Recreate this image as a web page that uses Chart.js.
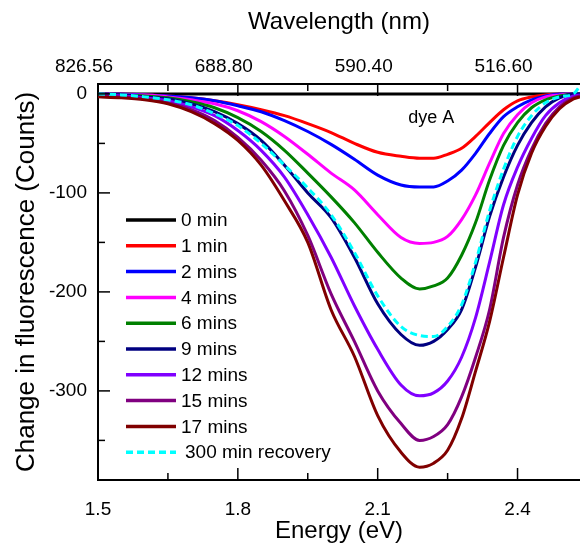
<!DOCTYPE html>
<html>
<head>
<meta charset="utf-8">
<script src="https://cdn.jsdelivr.net/npm/chart.js@4.4.1/dist/chart.umd.min.js"></script>
<style>
    html, body { margin: 0; padding: 0; background: #fff; }
</style>
</head>
<body>
<canvas id="myChart" width="580" height="546"></canvas>
<script>

// photon energy (eV) of each sample point
var energy = [1.50, 1.55, 1.60, 1.65, 1.70, 1.75, 1.80, 1.85, 1.90, 1.95, 2.00, 2.05, 2.10, 2.15,
              2.19, 2.22, 2.25, 2.28, 2.31, 2.34, 2.37, 2.40, 2.43, 2.46, 2.49, 2.52, 2.534];

// change in fluorescence (counts) for each exposure time
var min0  = [0, 0, 0, 0, 0, 0, 0, 0, 0, 0, 0, 0, 0, 0, 0, 0, 0, 0, 0, 0, 0, 0, 0, 0, 0, 0, 0];
var min1  = [0, 0, -1, -2, -4, -7, -11, -16, -22, -30, -39, -50, -59, -63, -65, -65, -61, -55, -43, -29, -16, -7, -3, -1, 0, 0, 0];
var min2  = [0, 0, -1, -2, -4, -7, -12, -18, -27, -38, -51, -66, -82, -92, -94, -94, -88, -77, -60, -40, -23, -13, -6, -2, 0, 0, 0];
var min4  = [0, -1, -1, -3, -6, -10, -17, -28, -43, -61, -80, -97, -122, -145, -151, -150, -144, -127, -102, -70, -40, -21, -9, -3, -1, 0, 0];
var min6  = [0, -1, -2, -4, -8, -14, -24, -38, -57, -80, -104, -130, -160, -186, -197, -194, -186, -163, -130, -87, -52, -29, -14, -6, -2, 0, 0];
var min9  = [0, -1, -3, -5, -10, -18, -30, -47, -72, -100, -125, -165, -212, -243, -254, -250, -238, -218, -175, -124, -84, -52, -29, -13, -4, 0, 0];
var min12 = [-1, -2, -4, -7, -13, -22, -37, -57, -84, -122, -165, -214, -258, -294, -305, -302, -290, -266, -226, -170, -112, -74, -45, -22, -9, -2, -1];
var min15 = [-2, -3, -5, -9, -16, -27, -44, -67, -98, -143, -202, -250, -300, -333, -350, -346, -334, -306, -266, -218, -145, -92, -56, -30, -13, -4, -2];
var min17 = [-3, -4, -6, -10, -18, -30, -47, -72, -108, -150, -218, -265, -325, -362, -377, -373, -360, -328, -280, -230, -165, -102, -60, -33, -15, -5, -3];
var recovery300 = [0, -1, -3, -6, -11, -20, -32, -50, -72, -95, -122, -160, -204, -235, -244, -245, -235, -213, -170, -118, -76, -43, -22, -9, -3, 0, 8];

var seriesNames = ['0 min', '1 min', '2 mins', '4 mins', '6 mins', '9 mins', '12 mins', '15 mins', '17 mins', '300 min recovery'];
var seriesColors = ['#000000', '#ff0000', '#0000ff', '#ff00ff', '#008000', '#000080', '#8000ff', '#800080', '#800000', '#00ffff'];
var seriesValues = [min0, min1, min2, min4, min6, min9, min12, min15, min17, recovery300];

// axis ranges and tick positions (labelled ones get long tick marks)
var energyMin = 1.5, energyMax = 2.534;
var countsMin = -390, countsMax = 10;
var energyTicks = [1.5, 1.65, 1.8, 1.95, 2.1, 2.25, 2.4];
var energyLabels = ['1.5', '', '1.8', '', '2.1', '', '2.4'];
var wavelengthLabels = ['826.56', '', '688.80', '', '590.40', '', '516.60'];
var countsTicks = [-350, -300, -250, -200, -150, -100, -50, 0];
var countsLabels = ['', '-300', '', '-200', '', '-100', '', '0'];

var FONT = "'Liberation Sans', Arial, sans-serif";

function points(vals) {
    return energy.map(function (e, i) { return { x: e, y: vals[i] }; });
}

var datasets = seriesValues.map(function (vals, i) {
    return {
        label: seriesNames[i],
        data: points(vals),
        borderColor: seriesColors[i],
        backgroundColor: seriesColors[i],
        borderWidth: 3,
        borderDash: i === 9 ? [7, 4] : [],
        pointRadius: 0,
        cubicInterpolationMode: 'monotone',
        order: 9 - i   // later series on top
    };
});

function setTicks(values) {
    return function (s) {
        s.ticks = values.map(function (v) { return { value: v }; });
    };
}

function labelFrom(values, labels) {
    return function (v) {
        var i = values.indexOf(v);
        return i < 0 ? '' : labels[i];
    };
}

// ticks pointing into the plot, long on labelled values
var inwardTicks = {
    id: 'inwardTicks',
    afterDraw: function (chart) {
        var ctx = chart.ctx, a = chart.chartArea;
        ctx.save();
        ctx.strokeStyle = '#000';
        ctx.lineWidth = 1.5;
        ['x', 'x2', 'y'].forEach(function (id) {
            var s = chart.scales[id];
            s.ticks.forEach(function (t) {
                var len = t.label ? 12 : 7;
                var p = s.getPixelForValue(t.value);
                ctx.beginPath();
                if (id === 'x') { ctx.moveTo(p, a.bottom); ctx.lineTo(p, a.bottom - len); }
                else if (id === 'x2') { ctx.moveTo(p, a.top); ctx.lineTo(p, a.top + len); }
                else { ctx.moveTo(a.left, p); ctx.lineTo(a.left + len, p); }
                ctx.stroke();
            });
        });
        ctx.restore();
    }
};

// legend inside the plot + the dye label
var innerLegend = {
    id: 'innerLegend',
    afterDraw: function (chart) {
        var ctx = chart.ctx, a = chart.chartArea;
        var x0 = a.left + 28, y0 = a.top + 136, step = 25.8;
        ctx.save();
        ctx.font = '19px ' + FONT;
        ctx.textBaseline = 'middle';
        ctx.fillStyle = '#000';
        chart.data.datasets.forEach(function (ds, i) {
            var y = y0 + i * step;
            ctx.strokeStyle = ds.borderColor;
            ctx.lineWidth = 3.5;
            ctx.setLineDash(ds.borderDash || []);
            ctx.beginPath();
            ctx.moveTo(x0, y);
            ctx.lineTo(x0 + 50, y);
            ctx.stroke();
            ctx.setLineDash([]);
            ctx.fillText(ds.label, x0 + 55 + (i === 9 ? 4 : 0), y + 1);
        });

        ctx.font = '18px ' + FONT;
        ctx.textAlign = 'center';
        ctx.fillText('dye A', chart.scales.x.getPixelForValue(2.215), chart.scales.y.getPixelForValue(-24));
        ctx.restore();
    }
};

var chartArea = document.getElementById('myChart').getContext('2d');

var myChart = new Chart(chartArea, {
    type: 'line',
    data: { datasets: datasets },
    options: {
        responsive: false,
        animation: false,
        devicePixelRatio: 1,
        layout: { padding: 0 },
        plugins: {
            legend: { display: false },
            tooltip: { enabled: false }
        },
        scales: {
            x: {
                type: 'linear',
                position: 'bottom',
                min: energyMin,
                max: energyMax,
                afterBuildTicks: setTicks(energyTicks),
                grid: { display: false, drawTicks: false },
                border: { display: true, color: '#000', width: 2 },
                ticks: {
                    autoSkip: false,
                    maxRotation: 0,
                    padding: 18,
                    color: '#000',
                    font: { family: FONT, size: 19 },
                    callback: labelFrom(energyTicks, energyLabels)
                },
                title: {
                    display: true,
                    text: 'Energy (eV)',
                    color: '#000',
                    font: { family: FONT, size: 24 },
                    padding: { top: 0, bottom: 0 }
                },
                afterFit: function (s) { s.height = 66; s.paddingLeft = 0; s.paddingRight = 0; }
            },
            x2: {
                type: 'linear',
                position: 'top',
                min: energyMin,
                max: energyMax,
                afterBuildTicks: setTicks(energyTicks),
                grid: { display: false, drawTicks: false },
                border: { display: true, color: '#000', width: 2 },
                ticks: {
                    autoSkip: false,
                    maxRotation: 0,
                    padding: 6,
                    labelOffset: -14,
                    color: '#000',
                    font: { family: FONT, size: 19 },
                    callback: labelFrom(energyTicks, wavelengthLabels)
                },
                title: {
                    display: true,
                    text: 'Wavelength (nm)',
                    color: '#000',
                    font: { family: FONT, size: 24 },
                    padding: { top: 8, bottom: 0 }
                },
                afterFit: function (s) { s.height = 84; s.paddingLeft = 0; s.paddingRight = 0; }
            },
            y: {
                type: 'linear',
                position: 'left',
                min: countsMin,
                max: countsMax,
                afterBuildTicks: setTicks(countsTicks),
                grid: { display: false, drawTicks: false },
                border: { display: true, color: '#000', width: 2 },
                ticks: {
                    autoSkip: false,
                    padding: 11,
                    color: '#000',
                    font: { family: FONT, size: 19 },
                    callback: labelFrom(countsTicks, countsLabels)
                },
                title: {
                    display: true,
                    text: 'Change in fluorescence (Counts)',
                    color: '#000',
                    font: { family: FONT, size: 26 },
                    padding: { top: 11, bottom: 0 }
                },
                afterFit: function (s) { s.width = 98; s.paddingTop = 0; s.paddingBottom = 0; }
            }
        }
    },
    plugins: [inwardTicks, innerLegend]
});

</script>
</body>
</html>
